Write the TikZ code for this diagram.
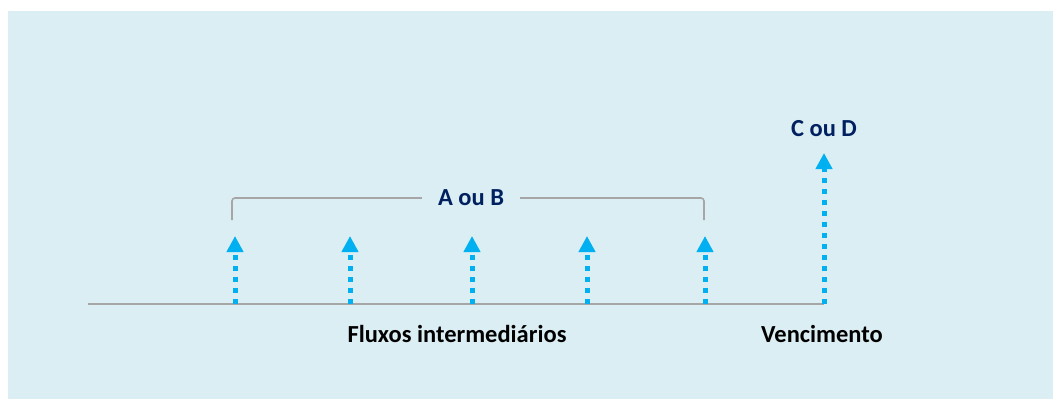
\documentclass[tikz,border=0pt]{standalone}
\usepackage{fontspec}
\setmainfont{Carlito}
\usetikzlibrary{arrows.meta,positioning}
\definecolor{bgblue}{HTML}{DAEEF3}
\definecolor{flowblue}{HTML}{00B0F0}
\definecolor{navy}{HTML}{002060}
\definecolor{axisgray}{HTML}{A6A6A6}
\begin{document}
\begin{tikzpicture}[x=1pt,y=-1pt,
  flow/.style={flowblue,line width=5pt,dash pattern=on 5pt off 6pt,
    -{Triangle[width=16pt,length=16pt]}},
  lbl/.style={font=\fontsize{24.5}{28}\selectfont\bfseries,anchor=base,inner sep=0pt},
  bracket/.style={axisgray,line width=1.6pt,rounded corners=3pt}]
  \useasboundingbox (0,0) rectangle (1053,399);
  \fill[bgblue] (8,11) rectangle (1053,399);

  % time axis
  \coordinate (t0) at (88,304);
  \coordinate (tn) at (824,304);
  \draw[axisgray,line width=1.6pt] (t0) -- (tn);

  % intermediate flows
  \foreach \i/\x in {1/235,2/350,3/472,4/587,5/705} {
    \coordinate (f\i) at (\x,304);
    \coordinate (h\i) at (\x,236);
    \draw[flow] (f\i) -- (h\i);
  }

  % final flow
  \coordinate (hn) at (824,153);
  \draw[flow] (tn) -- (hn);

  % labels
  \node[lbl,text=navy] (cd) at (824,136) {C ou D};
  \node[lbl,text=navy,inner xsep=16pt] (ab) at (471,205) {A ou B};
  \node[lbl] (fluxos) at (457,342) {Fluxos intermediários};
  \node[lbl] (venc) at (822,342) {Vencimento};

  % bracket
  \coordinate (bl) at (232,220);
  \coordinate (br) at (704,220);
  \draw[bracket] (bl) |- (ab.west |- 0,198);
  \draw[bracket] (ab.east |- 0,198) -| (br);
\end{tikzpicture}
\end{document}
